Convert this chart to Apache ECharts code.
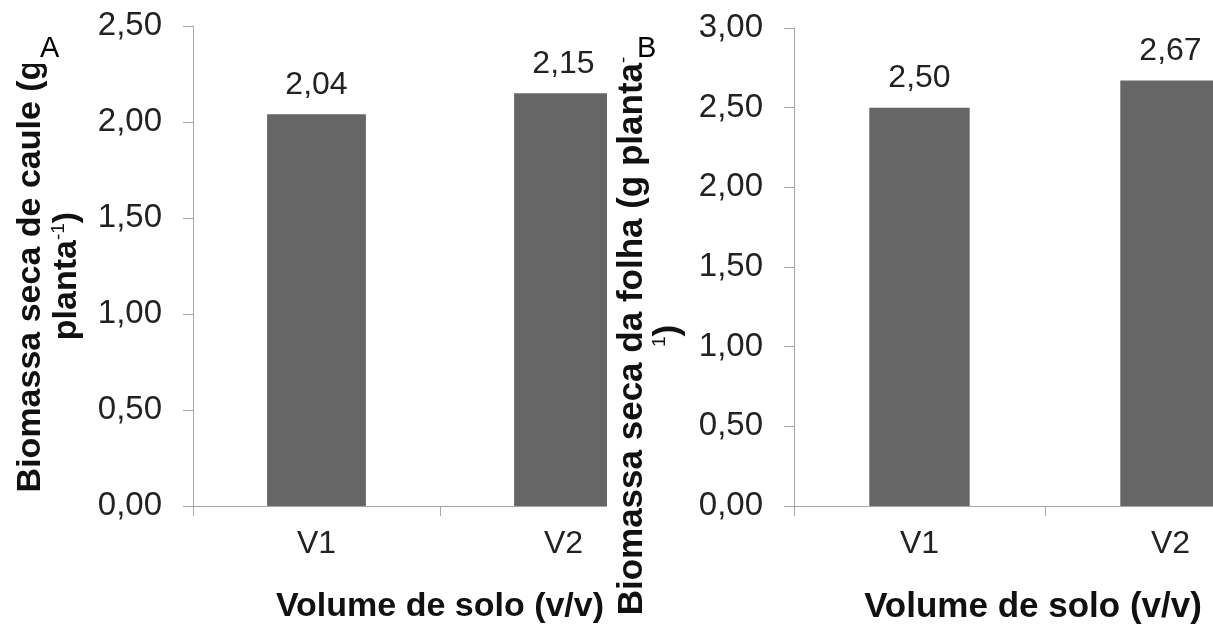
<!DOCTYPE html>
<html>
<head>
<meta charset="utf-8">
<script src="https://cdn.jsdelivr.net/npm/echarts@6/dist/echarts.min.js"></script>
<style>
  html, body { margin: 0; padding: 0; background: #fff; }
  .wrap { position: relative; width: 1213px; height: 625px; overflow: hidden; }
  #chartA { position: absolute; left: 0; top: 0; width: 607px; height: 625px; }
  #chartB { position: absolute; left: 607px; top: 0; width: 606px; height: 625px; background: #fff; }
</style>
</head>
<body>
<div class="wrap">
  <div id="chartA"></div>
  <div id="chartB"></div>
</div>
<script>
// dados
const categories = ['V1', 'V2'];
const caule = [2.04, 2.15];   // biomassa seca de caule
const folha = [2.50, 2.67];   // biomassa seca da folha
const maxA = 2.5;
const maxB = 3.0;
const step = 0.5;

const FONT = 'Liberation Sans, Arial, sans-serif';
const barColor = '#666666';
const axisColor = '#a6a6a6';

function virgula(v) {
  return Number(v).toFixed(2).replace('.', ',');
}

function makeOption(o) {
  return {
    animation: false,
    grid: Object.assign({ containLabel: false, outerBoundsMode: 'none' }, o.grid),
    xAxis: {
      type: 'category',
      data: categories,
      boundaryGap: true,
      name: 'Volume de solo (v/v)',
      nameLocation: 'middle',
      nameGap: 84,
      nameTextStyle: {
        fontFamily: FONT, fontSize: o.xNameSize, fontWeight: 'bold', color: '#111',
        padding: o.xNamePad
      },
      axisLine: { show: true, lineStyle: { color: axisColor, width: 1 } },
      axisTick: { show: true, length: 10, lineStyle: { color: axisColor } },
      axisLabel: { fontFamily: FONT, fontSize: 32, color: '#222', margin: 22 }
    },
    yAxis: {
      type: 'value',
      min: 0,
      max: o.max,
      interval: step,
      name: o.yName,
      nameLocation: 'middle',
      nameGap: 108,
      nameRotate: 90,
      nameTextStyle: {
        fontFamily: FONT, fontSize: o.yNameSize, fontWeight: 'bold', color: '#111',
        lineHeight: 36,
        padding: o.yNamePad,
        rich: {
          sup: { fontFamily: FONT, fontSize: 19, fontWeight: 'normal', color: '#111', verticalAlign: 'top', lineHeight: 36 }
        }
      },
      splitLine: { show: false },
      axisLine: { show: true, lineStyle: { color: axisColor, width: 1 } },
      axisTick: { show: true, length: 10, lineStyle: { color: axisColor } },
      axisLabel: { fontFamily: FONT, fontSize: 33, color: '#222', margin: 31, formatter: virgula }
    },
    graphic: o.graphic,
    series: [{
      type: 'bar',
      data: o.data,
      barWidth: '40%',
      itemStyle: { color: barColor },
      label: {
        show: true,
        position: 'top',
        distance: 13,
        fontFamily: FONT,
        fontSize: 32,
        color: '#222',
        formatter: p => virgula(p.value)
      }
    }]
  };
}

// Painel A
const chartA = echarts.init(document.getElementById('chartA'));
chartA.setOption(makeOption({
  grid: { left: 193, top: 26, width: 494, height: 480 },
  max: maxA,
  data: caule,
  yName: 'Biomassa seca de caule (g\nplanta{sup|-1})',
  yNameSize: 34,
  yNamePad: [0, 20, 0, 0],
  xNameSize: 34,
  xNamePad: 0,
  graphic: [
    { type: 'rect', z: 100, shape: { x: 0, y: 0, width: 92, height: 64 }, style: { fill: '#fff' } },
    { type: 'text', z: 101, left: 40, top: 34, style: { text: 'A', fontFamily: FONT, fontSize: 29, fill: '#000' } }
  ]
}));

// Painel B
const chartB = echarts.init(document.getElementById('chartB'));
chartB.setOption(makeOption({
  grid: { left: 187, top: 28, width: 502, height: 478 },
  max: maxB,
  data: folha,
  yName: 'Biomassa seca da folha (g planta{sup|-}\n{sup|1})',
  yNameSize: 35,
  yNamePad: [0, 138, 0, 0],
  xNameSize: 35,
  xNamePad: [0, 24, 0, 0],
  graphic: [
    { type: 'text', z: 101, left: 30, top: 34, style: { text: 'B', fontFamily: FONT, fontSize: 29, fill: '#000' } }
  ]
}));
</script>
</body>
</html>
